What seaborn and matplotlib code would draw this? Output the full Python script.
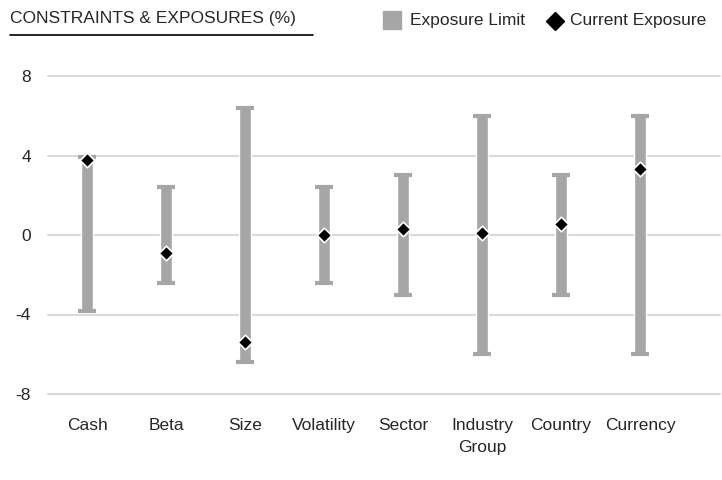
import matplotlib
matplotlib.use("Agg")
import matplotlib.pyplot as plt
import seaborn as sns
import pandas as pd

categories = ["Cash", "Beta", "Size", "Volatility", "Sector", "Industry\nGroup", "Country", "Currency"]
limit_low = [-3.8, -2.4, -6.4, -2.4, -3.0, -6.0, -3.0, -6.0]
limit_high = [3.9, 2.4, 6.4, 2.4, 3.0, 6.0, 3.0, 6.0]
current = [3.75, -0.9, -5.4, 0.0, 0.3, 0.1, 0.55, 3.3]
yticks = [-8, -4, 0, 4, 8]

sns.set_style("white")
plt.rcParams['font.family'] = ['Liberation Sans', 'DejaVu Sans']

df = pd.DataFrame({"cat": categories, "lo": limit_low, "hi": limit_high, "cur": current})
fig = plt.figure(figsize=(7.22, 4.8), dpi=100)
ax = fig.add_axes([47.5/722, 86/480, 672.5/722, 318/480])
x = list(range(len(categories)))
for yv in yticks:
    ax.axhline(yv, color="#d9d9d9", lw=1.5, zorder=0, clip_on=False)
ax.bar(x, [h - l for l, h in zip(limit_low, limit_high)], bottom=limit_low, width=0.15,
       color="#a6a6a6", zorder=2)
ax.hlines(limit_low, [i - 0.11 for i in x], [i + 0.11 for i in x], color="#a6a6a6", lw=3, zorder=2)
ax.hlines(limit_high, [i - 0.11 for i in x], [i + 0.11 for i in x], color="#a6a6a6", lw=3, zorder=2)
sns.scatterplot(x=x, y=df["cur"], marker="D", s=55, color="black", edgecolor="white",
                linewidth=1.2, zorder=3, ax=ax)
ax.set_xlim(-0.5, 672.5/79 - 0.5)
ax.set_ylim(-8, 8)
ax.set_yticks(yticks)
ax.set_yticklabels([str(v) for v in yticks], fontsize=12.5)
ax.set_xticks(x)
ax.set_xticklabels(categories, fontsize=12.5, linespacing=1.6)
ax.tick_params(axis="x", length=0, pad=17)
ax.tick_params(axis="y", length=0, pad=12)
ax.set_ylabel("")
for s in ax.spines.values():
    s.set_visible(False)

fig.text(10/722, 1 - 18/480, "CONSTRAINTS & EXPOSURES (%)", fontsize=12.5, va="center")
fig.add_artist(plt.Line2D([10/722, 313/722], [1 - 35/480] * 2, color="black", lw=1.2))
fig.patches.append(plt.Rectangle((383/722, 1 - 29/480), 18/722, 18/480, color="#a6a6a6",
                                 transform=fig.transFigure, figure=fig))
fig.text(410/722, 1 - 20/480, "Exposure Limit", fontsize=12.5, va="center")
fig.add_artist(plt.Line2D([555/722], [1 - 21/480], marker="D", color="black", markersize=9,
                          transform=fig.transFigure))
fig.text(570/722, 1 - 20/480, "Current Exposure", fontsize=12.5, va="center")
fig.savefig("out.png", dpi=100)
